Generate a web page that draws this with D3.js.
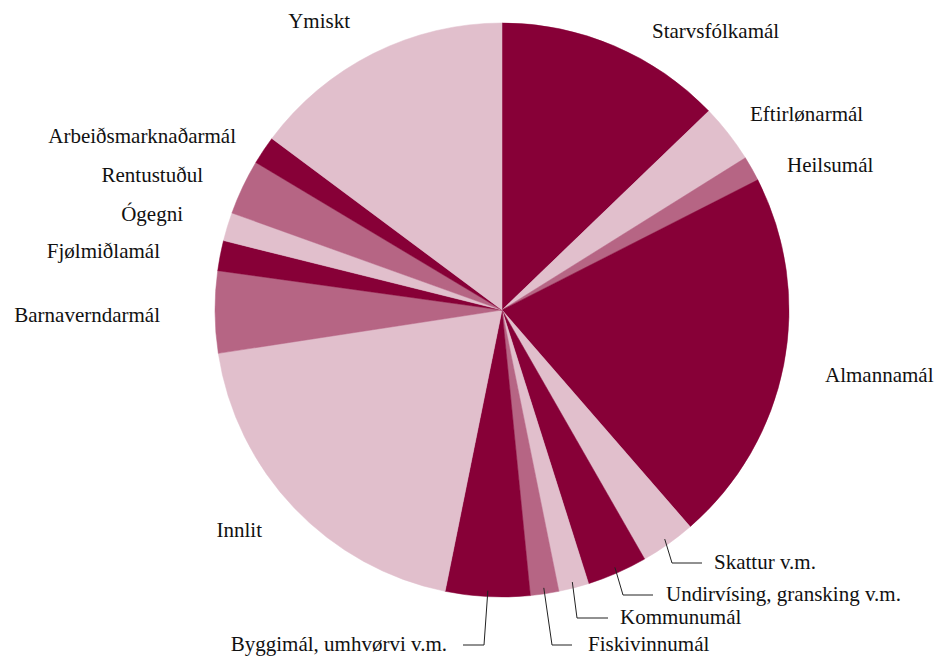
<!DOCTYPE html>
<html>
  <head>
    <meta charset="utf-8">
    <title>Mál</title>
    <script src="https://d3js.org/d3.v7.min.js"></script>
    <style>
      body { margin: 0; background: #fff; }
      text { font-family: "Liberation Serif", "DejaVu Serif", serif; font-size: 21px; fill: #111; }
    </style>
  </head>
  <body>
    <div id="chart"></div>
    <script>
      // data, clockwise from 12 o'clock (share in %)
      var categories = ["Starvsfólkamál", "Eftirlønarmál", "Heilsumál", "Almannamál", "Skattur v.m.",
        "Undirvísing, gransking v.m.", "Kommunumál", "Fiskivinnumál", "Byggimál, umhvørvi v.m.", "Innlit",
        "Barnaverndarmál", "Fjølmiðlamál", "Ógegni", "Rentustuðul", "Arbeiðsmarknaðarmál", "Ymiskt"];
      var values = [12.8, 3.3, 1.4, 21.1, 3.1, 3.4, 1.7, 1.6, 4.75, 19.4, 4.6, 1.7, 1.6, 3.1, 1.6, 14.8];
      var shade = ["dark", "light", "mid", "dark", "light", "dark", "light", "mid", "dark", "light",
        "mid", "dark", "light", "mid", "dark", "light"];

      var colors = { dark: "#870037", mid: "#b66584", light: "#e1bfcc" };

      var width = 938, height = 659;
      var cx = 502, cy = 310, r = 287;

      // label placement (layout only)
      var labelPos = {
        "Starvsfólkamál": { x: 652, y: 38, anchor: "start" },
        "Eftirlønarmál": { x: 750, y: 121, anchor: "start" },
        "Heilsumál": { x: 787, y: 172, anchor: "start" },
        "Almannamál": { x: 825, y: 382, anchor: "start" },
        "Skattur v.m.": { x: 714, y: 569, anchor: "start", elbow: [672, 563], end: 702 },
        "Undirvísing, gransking v.m.": { x: 666, y: 601, anchor: "start", elbow: [623, 595], end: 653 },
        "Kommunumál": { x: 620, y: 624, anchor: "start", elbow: [577, 618], end: 608 },
        "Fiskivinnumál": { x: 588, y: 651, anchor: "start", elbow: [552, 645], end: 572 },
        "Byggimál, umhvørvi v.m.": { x: 447, y: 651, anchor: "end", elbow: [484, 645], end: 463 },
        "Innlit": { x: 262, y: 537, anchor: "end" },
        "Barnaverndarmál": { x: 160, y: 322, anchor: "end" },
        "Fjølmiðlamál": { x: 160, y: 258, anchor: "end" },
        "Ógegni": { x: 183, y: 221, anchor: "end" },
        "Rentustuðul": { x: 203, y: 182, anchor: "end" },
        "Arbeiðsmarknaðarmál": { x: 236, y: 143, anchor: "end" },
        "Ymiskt": { x: 350, y: 28, anchor: "end" }
      };

      var rows = categories.map(function (c, i) {
        return { name: c, value: values[i], color: colors[shade[i]] };
      });

      var svg = d3.select("#chart").append("svg")
        .attr("width", width)
        .attr("height", height);

      var pie = d3.pie().sort(null).value(function (d) { return d.value; });
      var arc = d3.arc().innerRadius(0).outerRadius(r);
      var arcs = pie(rows);

      var g = svg.append("g").attr("transform", "translate(" + cx + "," + cy + ")");
      g.selectAll("path")
        .data(arcs)
        .enter().append("path")
        .attr("d", arc)
        .attr("fill", function (d) { return d.data.color; })
        .attr("stroke", function (d) { return d.data.color; })
        .attr("stroke-width", 0.5);

      // leader lines for the narrow slices at the bottom
      arcs.forEach(function (d) {
        var p = labelPos[d.data.name];
        if (!p.elbow) return;
        var a = (d.startAngle + d.endAngle) / 2;
        var sx = cx + Math.sin(a) * (r - 6);
        var sy = cy - Math.cos(a) * (r - 6);
        svg.append("polyline")
          .attr("points", [[sx, sy], p.elbow, [p.end, p.elbow[1]]].map(function (q) { return q.join(","); }).join(" "))
          .attr("fill", "none")
          .attr("stroke", "#222")
          .attr("stroke-width", 1);
      });

      svg.selectAll("text.lbl")
        .data(arcs)
        .enter().append("text")
        .attr("class", "lbl")
        .attr("x", function (d) { return labelPos[d.data.name].x; })
        .attr("y", function (d) { return labelPos[d.data.name].y; })
        .attr("text-anchor", function (d) { return labelPos[d.data.name].anchor; })
        .text(function (d) { return d.data.name; });
    </script>
  </body>
</html>
